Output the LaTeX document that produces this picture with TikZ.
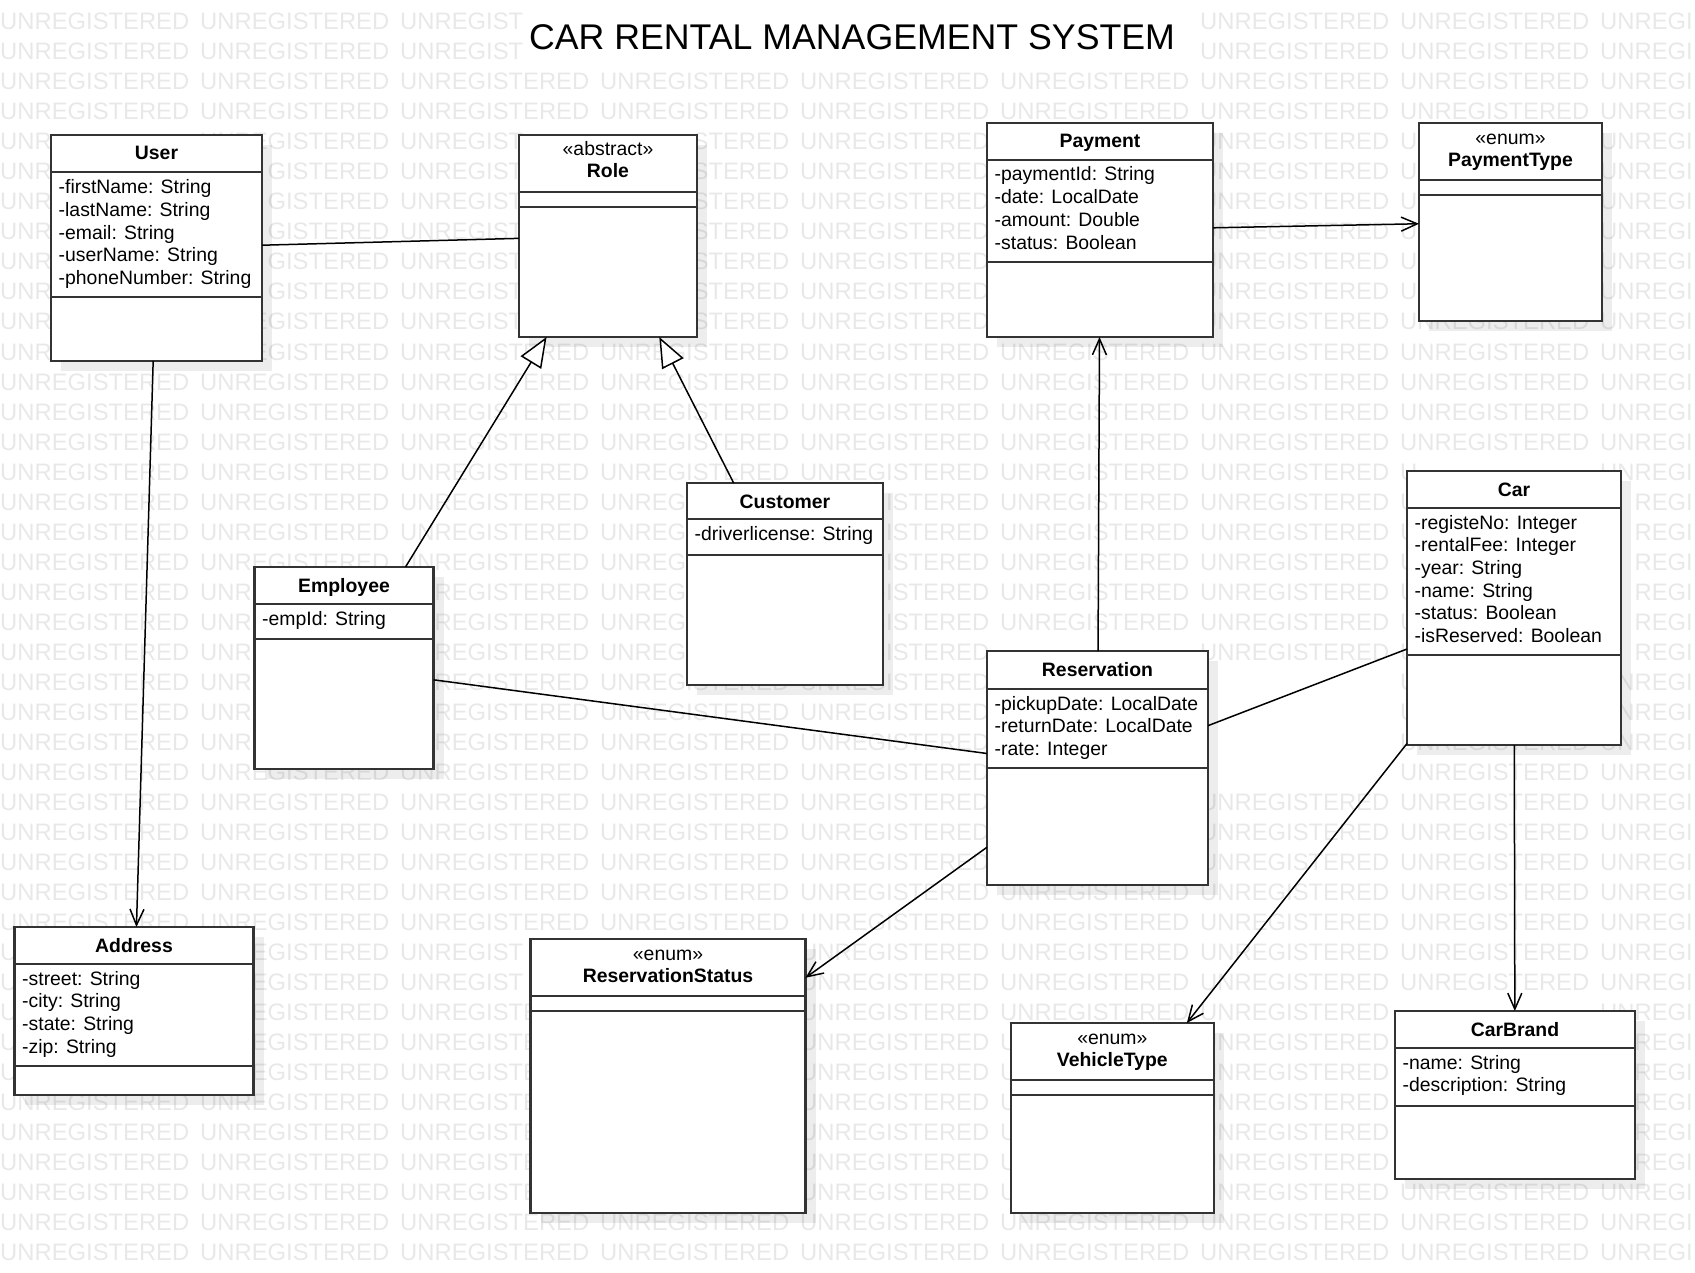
\documentclass[tikz,border=0pt]{standalone}
\usepackage{fontspec}
\setmainfont{Liberation Sans}
\usetikzlibrary{arrows.meta,shadows}

% areas taken by the class texts (x1/y1/x2/y2), kept free of the watermark
\def\textzones{527/18/1177/58, 133/142/180/164, 56/175/252/289, 558/138/658/183,
  1058/130/1142/152, 992/163/1160/254, 1445/126/1576/172, 738/490/832/512,
  692/522/874/544, 296/574/392/596, 260/607/386/629, 1496/478/1532/500,
  1412/511/1602/647, 1040/658/1155/680, 992/692/1206/760, 93/934/174/956,
  20/967/140/1036, 577/942/759/988, 1054/1026/1171/1072, 1469/1018/1561/1040,
  1400/1051/1570/1074}
% the parts of the watermark that still show beside those areas
\def\wmparts{400/30/UNREGIST, 400/60/UNREGIST,
  0/150/UNR, 0/180/UNR, 0/210/UNR, 0/240/UNR, 0/270/UNR, 0/300/UNR,
  267.4/180/GISTERED, 267.4/210/GISTERED, 267.4/240/GISTERED, 267.4/270/GISTERED, 267.4/300/GISTERED,
  400/150/UNREGIST, 400/180/UNREGIST, 692.5/150/STERED, 692.5/180/STERED,
  1400/150/U, 1400/180/U,
  600/510/UNREG, 600/540/UNREG, 885.9/510/ISTERED, 885.9/540/ISTERED,
  200/570/UNREGISTERED, 200/600/UNR, 200/630/UNR,
  1400/480/U, 1400/510/U, 1400/540/U, 1400/570/U, 1400/600/U, 1400/630/U, 1400/660/U,
  1634.4/510/REGI, 1634.4/540/REGI, 1634.4/570/REGI, 1634.4/600/REGI, 1634.4/630/REGI, 1634.4/660/REGI,
  0/930/UNREGISTERED, 0/960/U, 0/990/U, 0/1020/U, 0/1050/U,
  400/960/UNREGIST, 400/990/UNREGIST,
  1000/1050/U, 1000/1080/U}

\begin{document}
\begin{tikzpicture}[x=1pt,y=-1pt]
  \tikzstyle{cls}=[rectangle,draw=black!80,line width=2.2pt,fill=white,inner sep=0pt,outer sep=0pt,
                   drop shadow={shadow xshift=10pt,shadow yshift=-10pt,fill=black,opacity=0.07}]
  \tikzstyle{sep}=[draw=black!80,line width=2.2pt]
  \tikzstyle{cname}=[anchor=base,inner sep=0pt,font=\fontsize{19.4}{22.7}\selectfont\bfseries]
  \tikzstyle{stereo}=[anchor=base,inner sep=0pt,font=\fontsize{19.4}{22.7}\selectfont]
  \tikzstyle{attr}=[anchor=base west,inner sep=0pt,font=\fontsize{19.4}{22.7}\selectfont]
  \tikzstyle{wm}=[anchor=base west,inner sep=0pt,text=black!9,font=\fontsize{23.8}{28}\selectfont]
  \tikzstyle{assoc}=[draw=black,line width=1.5pt]
  \tikzstyle{nav}=[assoc,-{Straight Barb[length=16pt,width=14pt]}]
  \tikzstyle{inherit}=[assoc,-{Triangle[open,length=30pt,width=24pt,fill=white]}]

  \useasboundingbox (0,0) rectangle (1695,1273);

  % watermark
  \foreach \r in {0,...,41}
    \foreach \c in {0,...,8} {
      \pgfmathsetmacro{\wx}{200*\c}
      \pgfmathsetmacro{\wy}{30+30*\r}
      \gdef\wmhit{0}
      \foreach \xa/\ya/\xb/\yb in \textzones {
        \pgfmathtruncatemacro{\hit}{(\wx<\xb)*(\wx+190>\xa)*(\wy-21<\yb)*(\wy+5>\ya)}
        \ifnum\hit=1 \gdef\wmhit{1}\fi
      }
      \ifnum\wmhit=0
        \ifnum\c=8 \node[wm] (wm-\r-\c) at (\wx,\wy) {UNREGI};
        \else \node[wm] (wm-\r-\c) at (\wx,\wy) {UNREGISTERED};
        \fi
      \fi
    }
  \foreach \fx/\fy/\ft [count=\k] in \wmparts
    \node[wm] (wmp-\k) at (\fx,\fy) {\ft};

  \node[inner sep=0pt,font=\fontsize{35.7}{40}\selectfont] (title) at (852,37.5) {CAR RENTAL MANAGEMENT SYSTEM};

  % User
  \node[cls,minimum width=211pt,minimum height=226pt] (user) at (156.5,248) {};
  \draw[sep] (51,172) -- (262,172) (51,297) -- (262,297);
  \node[cname] (user-name) at (156.5,160) {User};
  \foreach \a [count=\i] in {-firstName: String,-lastName: String,-email: String,-userName: String,-phoneNumber: String}
    \node[attr] (user-a\i) at (58.5,171+22.7*\i) {\a};

  % Role
  \node[cls,minimum width=178pt,minimum height=202pt] (role) at (608,236) {};
  \draw[sep] (519,192) -- (697,192) (519,207) -- (697,207);
  \node[stereo] (role-st) at (608,156) {«abstract»};
  \node[cname] (role-name) at (608,178) {Role};

  % Payment
  \node[cls,minimum width=226pt,minimum height=214pt] (payment) at (1100,230) {};
  \draw[sep] (987,160) -- (1213,160) (987,262) -- (1213,262);
  \node[cname] (payment-name) at (1100,148) {Payment};
  \foreach \a [count=\i] in {-paymentId: String,-date: LocalDate,-amount: Double,-status: Boolean}
    \node[attr] (payment-a\i) at (994.5,158.3+22.7*\i) {\a};

  % PaymentType
  \node[cls,minimum width=183pt,minimum height=198pt] (paymenttype) at (1510.5,222) {};
  \draw[sep] (1419,180) -- (1602,180) (1419,195) -- (1602,195);
  \node[stereo] (paymenttype-st) at (1510.5,144.5) {«enum»};
  \node[cname] (paymenttype-name) at (1510.5,166.5) {PaymentType};

  % Customer
  \node[cls,minimum width=196pt,minimum height=202pt] (customer) at (785,584) {};
  \draw[sep] (687,519) -- (883,519) (687,555) -- (883,555);
  \node[cname] (customer-name) at (785,508) {Customer};
  \node[attr] (customer-a1) at (694.5,540) {-driverlicense: String};

  % Employee
  \node[cls,minimum width=179pt,minimum height=202pt] (employee) at (344,668) {};
  \draw[sep] (254.5,604) -- (433.5,604) (254.5,639) -- (433.5,639);
  \node[cname] (employee-name) at (344,592) {Employee};
  \node[attr] (employee-a1) at (262,625) {-empId: String};

  % Car
  \node[cls,minimum width=214pt,minimum height=274pt] (car) at (1514,608) {};
  \draw[sep] (1407,508) -- (1621,508) (1407,655) -- (1621,655);
  \node[cname] (car-name) at (1514,496) {Car};
  \foreach \a [count=\i] in {-registeNo: Integer,-rentalFee: Integer,-year: String,-name: String,-status: Boolean,-isReserved: Boolean}
    \node[attr] (car-a\i) at (1414.5,506.3+22.7*\i) {\a};

  % Reservation
  \node[cls,minimum width=221pt,minimum height=234pt] (reservation) at (1097.5,768) {};
  \draw[sep] (987,689) -- (1208,689) (987,768) -- (1208,768);
  \node[cname] (reservation-name) at (1097.5,676) {Reservation};
  \foreach \a [count=\i] in {-pickupDate: LocalDate,-returnDate: LocalDate,-rate: Integer}
    \node[attr] (reservation-a\i) at (994.5,687.3+22.7*\i) {\a};

  % Address
  \node[cls,minimum width=239pt,minimum height=168pt] (address) at (134,1011) {};
  \draw[sep] (14.5,964) -- (253.5,964) (14.5,1066) -- (253.5,1066);
  \node[cname] (address-name) at (134,952) {Address};
  \foreach \a [count=\i] in {-street: String,-city: String,-state: String,-zip: String}
    \node[attr] (address-a\i) at (22,962.3+22.7*\i) {\a};

  % ReservationStatus
  \node[cls,minimum width=275pt,minimum height=274pt] (resstatus) at (668,1076) {};
  \draw[sep] (530.5,996) -- (805.5,996) (530.5,1011) -- (805.5,1011);
  \node[stereo] (resstatus-st) at (668,960.5) {«enum»};
  \node[cname] (resstatus-name) at (668,982.5) {ReservationStatus};

  % VehicleType
  \node[cls,minimum width=202.6pt,minimum height=190pt] (vehicletype) at (1112.3,1118) {};
  \draw[sep] (1011,1080) -- (1213.6,1080) (1011,1095) -- (1213.6,1095);
  \node[stereo] (vehicletype-st) at (1112.3,1044.5) {«enum»};
  \node[cname] (vehicletype-name) at (1112.3,1066.5) {VehicleType};

  % CarBrand
  \node[cls,minimum width=240pt,minimum height=168pt] (carbrand) at (1515,1095) {};
  \draw[sep] (1395,1048) -- (1635,1048) (1395,1106) -- (1635,1106);
  \node[cname] (carbrand-name) at (1515,1036) {CarBrand};
  \foreach \a [count=\i] in {-name: String,-description: String}
    \node[attr] (carbrand-a\i) at (1402.5,1046.3+22.7*\i) {\a};

  % relations
  \draw[assoc] (user) -- (role);
  \draw[nav] (user) -- (address);
  \draw[inherit] (employee) -- (role);
  \draw[inherit] (customer) -- (role);
  \draw[nav] (payment) -- (paymenttype);
  \draw[nav] (reservation) -- (payment);
  \draw[assoc] (employee) -- (reservation);
  \draw[assoc] (reservation) -- (car);
  \draw[nav] (reservation) -- (resstatus);
  \draw[nav] (car) -- (vehicletype);
  \draw[nav] (car) -- (carbrand);
\end{tikzpicture}
\end{document}
